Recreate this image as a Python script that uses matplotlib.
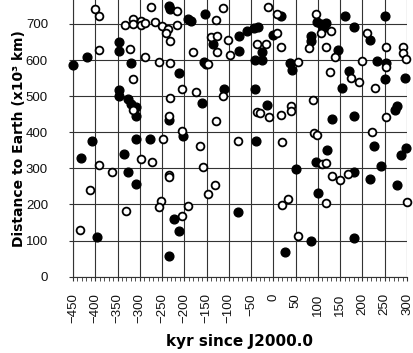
import matplotlib
matplotlib.use("Agg")
import matplotlib.pyplot as plt
from matplotlib.ticker import MultipleLocator

# filled circles (kyr since J2000.0, distance in 10^3 km)
filled_x = [-449, -418, -347, -347, -320, -347, -347, -326, -319, -308, -308, -308, -276, -408,
            -431, -335, -326, -309, -397, -234, -232, -191, -185, -154, -211, -161, -234, -202,
            -156, -151, -223, -211, -235, -79, -135, -78, -78, -60, -43, -35, -26, -41, -26, 0,
            18, 37, 42, -110, -41, -15, -40, 50, 25, 84, 97, 106, 117, 112, 84, 84, 161, 180,
            251, 217, 144, 233, 252, 251, 296, 155, 170, 131, 180, 277, 272, 226, 297, 287,
            241, 181, 217, 277, 120, 96, 101, 180]
filled_y = [585, 609, 651, 626, 591, 517, 501, 493, 477, 470, 444, 382, 382, 375,
            330, 339, 289, 258, 111, 750, 741, 713, 708, 728, 563, 481, 434, 391,
            596, 590, 159, 126, 58, 180, 644, 668, 625, 681, 688, 691, 623, 601, 600, 670,
            722, 591, 573, 519, 520, 475, 375, 297, 68, 99, 706, 700, 702, 688, 667, 652, 723, 691,
            723, 656, 627, 598, 591, 548, 550, 522, 569, 438, 445, 472, 463, 363, 357, 338,
            307, 289, 270, 254, 351, 317, 231, 107]

# open circles
open_x = [-400, -391, -392, -322, -315, -315, -249, -392, -297, -272, -362, -333, -316, -315,
          -298, -298, -288, -274, -265, -251, -236, -241, -217, -217, -232, -289, -256, -232,
          -206, -232, -173, -234, -206, -165, -157, -234, -234, -181, -146, -412, -435, -332,
          -253, -256, -206, -191, -147, -131, -114, -130, -141, -126, -103, -126, -97, -113,
          -130, -79, -11, 8, 9, -36, -17, 16, 56, 79, 95, 106, 129, 211, 117, 139, 127, 200,
          252, 252, 290, 290, 298, 175, 192, 228, 253, 221, -36, -31, -10, 16, 39, 39, 90, 91,
          97, 20, 109, 118, 131, 149, 167, 118, 20, 32, 56, 299]
open_y = [741, 723, 629, 632, 547, 463, 381, 309, 325, 319, 290, 697, 713, 700,
          709, 696, 704, 747, 706, 693, 685, 676, 736, 697, 654, 609, 594, 591,
          519, 496, 512, 445, 404, 361, 303, 283, 275, 621, 590, 240, 128, 181,
          209, 194, 168, 196, 228, 254, 743, 711, 665, 668, 656, 621, 613, 501,
          430, 376, 746, 728, 674, 644, 644, 635, 594, 633, 727, 674, 680, 676, 635, 608, 566, 598,
          635, 580, 635, 620, 602, 551, 538, 522, 443, 402, 455, 452, 442, 447, 474, 460, 489, 399,
          393, 373, 311, 316, 280, 268, 284, 205, 199, 214, 112, 206]

plt.rcParams['font.family'] = ['Liberation Sans', 'DejaVu Sans']

fig = plt.figure(figsize=(4.14, 3.53), dpi=100)
ax = fig.add_axes([0.1763, 0.2162, 0.8068, 0.7824])

ax.plot(filled_x, filled_y, 'o', color='black', markersize=6.3, zorder=3, clip_on=False)
ax.plot(open_x, open_y, 'o', mfc='white', mec='black', mew=1.3, markersize=5.6, zorder=3,
        clip_on=False)

ax.set_xlim(-450, 300)
ax.set_ylim(0, 765)
ax.xaxis.set_major_locator(MultipleLocator(50))
ax.xaxis.set_minor_locator(MultipleLocator(10))
ax.yaxis.set_major_locator(MultipleLocator(100))
ax.grid(True, which='major', color='#333333', linewidth=0.8)
ax.set_axisbelow(True)

for s in ['top', 'right']:
    ax.spines[s].set_visible(False)
ax.spines['left'].set_color('#333333')
ax.spines['bottom'].set_color('#333333')

ax.tick_params(axis='both', which='major', length=3, width=0.8, color='#333333',
               labelsize=9.5, labelcolor='#111111')
ax.tick_params(axis='y', pad=15)
ax.tick_params(axis='x', which='major', pad=9, labelrotation=90)
ax.tick_params(axis='x', which='minor', length=3, width=0.6, color='#333333')

ax.set_xlabel('kyr since J2000.0', fontsize=11, fontweight='bold',
              family=['DejaVu Sans'], labelpad=8)
ax.set_ylabel('Distance to Earth (x10³ km)', fontsize=10, fontweight='bold',
              family=['DejaVu Sans'], labelpad=0)

fig.savefig('out.png', dpi=100)
